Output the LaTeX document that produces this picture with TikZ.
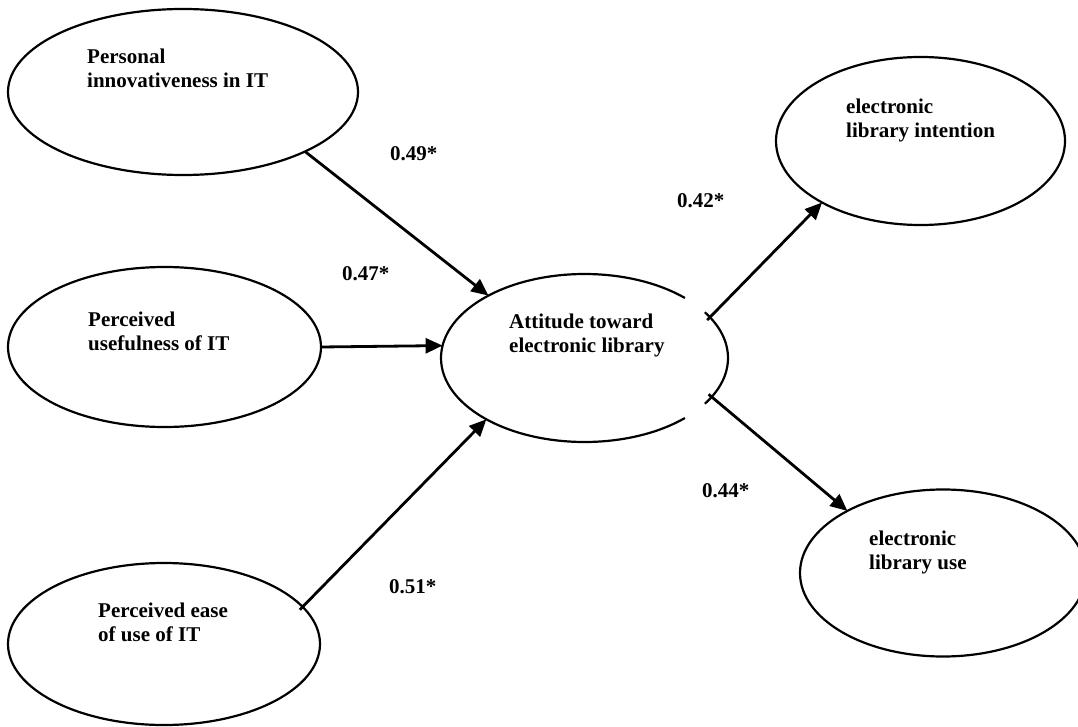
\documentclass[tikz,border=0pt]{standalone}
\usepackage{fontspec}
\setmainfont{Liberation Serif}
\usetikzlibrary{arrows.meta,shapes.geometric}

\begin{document}
\begin{tikzpicture}[x=1pt, y=1pt,
    every node/.style={font=\fontsize{21}{24}\selectfont\bfseries}]
  \tikzset{Var/.style={ellipse, draw, line width=2.2pt, inner sep=0pt, outer sep=0pt}}
  \tikzset{Ring/.style={line width=2.2pt}}
  \tikzset{Lbl/.style={anchor=north west, inner sep=0pt, align=left}}
  \tikzset{Coef/.style={anchor=base west, inner sep=0pt}}
  \tikzset{Path/.style={line width=2.8pt, -{Triangle[length=17pt,width=15pt]}}}

  \useasboundingbox (0,0) rectangle (1078,-727);

  % constructs
  \node[Var, minimum width=350pt, minimum height=166pt] (pit) at (183,-92) {};
  \node[Var, minimum width=313pt, minimum height=160pt] (pu) at (164.5,-347) {};
  \node[Var, minimum width=312pt, minimum height=162pt] (peu) at (164,-644) {};
  \node[Var, draw=none, minimum width=287pt, minimum height=168pt] (att) at (584.5,-358) {};
  \node[Var, minimum width=289pt, minimum height=168pt] (eli) at (920.5,-141) {};
  \node[Var, minimum width=286pt, minimum height=167pt] (elu) at (943,-573) {};

  % outline of the attitude ellipse, open on the right
  \draw[Ring] (att.center) ++(45.6:143.5pt and 84pt)
    arc[start angle=45.6, end angle=314.4, x radius=143.5pt, y radius=84pt];
  \draw[Ring] (att.center) ++(-33:143.5pt and 84pt)
    arc[start angle=-33, end angle=33, x radius=143.5pt, y radius=84pt];

  \node[Lbl] (pitt) at (87,-49) {Personal\\innovativeness in IT};
  \node[Lbl] (put) at (88,-312) {Perceived\\usefulness of IT};
  \node[Lbl] (peut) at (98,-603) {Perceived ease\\of use of IT};
  \node[Lbl] (attt) at (509,-314) {Attitude toward\\electronic library};
  \node[Lbl] (elit) at (846,-99) {electronic\\library intention};
  \node[Lbl] (elut) at (869,-531) {electronic\\library use};

  % paths
  \draw[Path] (pit.-26.4) -- (att.147.5);
  \draw[Path] (pu.east) -- (att.175.6);
  \draw[Path, shorten <=-4pt] (peu.15.4) -- (att.212.5);
  \draw[Path, shorten <=-4pt] (att.18.5) -- (eli.212.5);
  \draw[Path, shorten <=-4pt] (att.-17.7) -- (elu.147.4);

  \node[Coef] (c1) at (390,-161) {0.49*};
  \node[Coef] (c2) at (342,-280) {0.47*};
  \node[Coef] (c3) at (677,-208) {0.42*};
  \node[Coef] (c4) at (702,-497) {0.44*};
  \node[Coef] (c5) at (389,-593) {0.51*};
\end{tikzpicture}
\end{document}
